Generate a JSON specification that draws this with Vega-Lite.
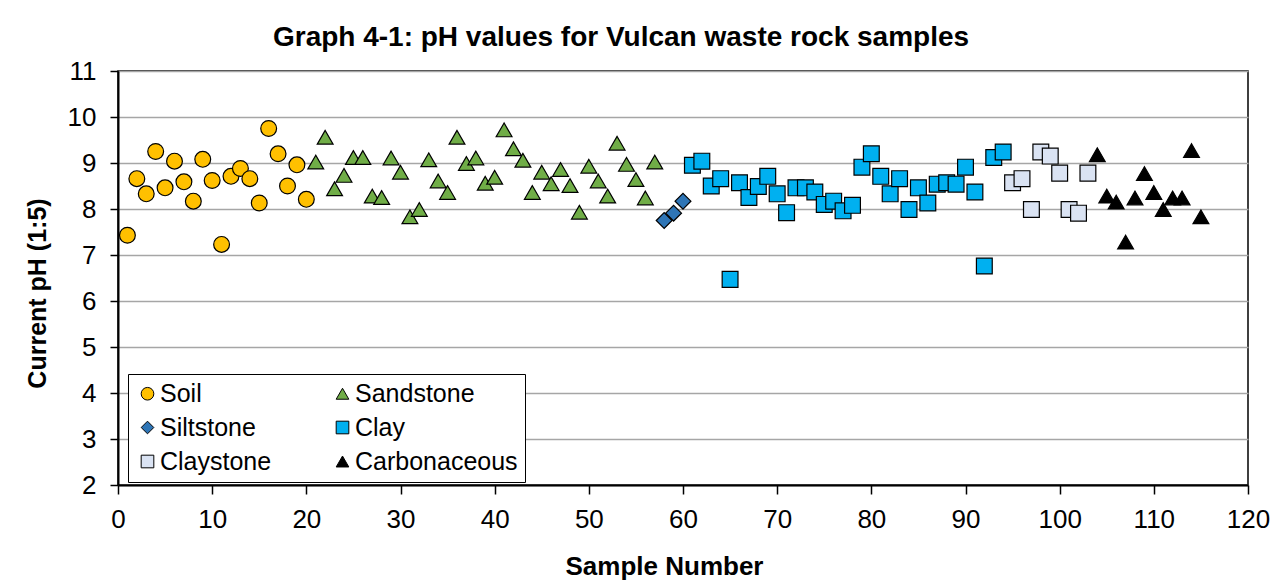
{
  "$schema": "https://vega.github.io/schema/vega-lite/v6.json",
  "width": 1130,
  "height": 414,
  "autosize": {"type": "none"},
  "padding": {"left": 118, "top": 71, "right": 32, "bottom": 97},
  "background": "white",
  "config": {
    "font": "Liberation Sans",
    "view": {"stroke": "black", "strokeWidth": 1.5}
  },
  "title": {
    "text": "Graph 4-1: pH values for Vulcan  waste rock samples",
    "font": "Liberation Sans",
    "fontSize": 28,
    "fontWeight": "bold",
    "color": "black",
    "anchor": "middle",
    "dx": -62,
    "offset": 6
  },
  "data": {
    "values": [
      {"n": 1, "pH": 7.43, "type": "Soil"},
      {"n": 2, "pH": 8.66, "type": "Soil"},
      {"n": 3, "pH": 8.33, "type": "Soil"},
      {"n": 4, "pH": 9.25, "type": "Soil"},
      {"n": 5, "pH": 8.46, "type": "Soil"},
      {"n": 6, "pH": 9.04, "type": "Soil"},
      {"n": 7, "pH": 8.59, "type": "Soil"},
      {"n": 8, "pH": 8.17, "type": "Soil"},
      {"n": 9, "pH": 9.08, "type": "Soil"},
      {"n": 10, "pH": 8.62, "type": "Soil"},
      {"n": 11, "pH": 7.23, "type": "Soil"},
      {"n": 12, "pH": 8.71, "type": "Soil"},
      {"n": 13, "pH": 8.88, "type": "Soil"},
      {"n": 14, "pH": 8.66, "type": "Soil"},
      {"n": 15, "pH": 8.13, "type": "Soil"},
      {"n": 16, "pH": 9.75, "type": "Soil"},
      {"n": 17, "pH": 9.2, "type": "Soil"},
      {"n": 18, "pH": 8.5, "type": "Soil"},
      {"n": 19, "pH": 8.96, "type": "Soil"},
      {"n": 20, "pH": 8.21, "type": "Soil"},
      {"n": 21, "pH": 9.02, "type": "Sandstone"},
      {"n": 22, "pH": 9.56, "type": "Sandstone"},
      {"n": 23, "pH": 8.44, "type": "Sandstone"},
      {"n": 24, "pH": 8.73, "type": "Sandstone"},
      {"n": 25, "pH": 9.12, "type": "Sandstone"},
      {"n": 26, "pH": 9.12, "type": "Sandstone"},
      {"n": 27, "pH": 8.28, "type": "Sandstone"},
      {"n": 28, "pH": 8.25, "type": "Sandstone"},
      {"n": 29, "pH": 9.11, "type": "Sandstone"},
      {"n": 30, "pH": 8.8, "type": "Sandstone"},
      {"n": 31, "pH": 7.83, "type": "Sandstone"},
      {"n": 32, "pH": 7.99, "type": "Sandstone"},
      {"n": 33, "pH": 9.07, "type": "Sandstone"},
      {"n": 34, "pH": 8.61, "type": "Sandstone"},
      {"n": 35, "pH": 8.36, "type": "Sandstone"},
      {"n": 36, "pH": 9.56, "type": "Sandstone"},
      {"n": 37, "pH": 8.99, "type": "Sandstone"},
      {"n": 38, "pH": 9.11, "type": "Sandstone"},
      {"n": 39, "pH": 8.56, "type": "Sandstone"},
      {"n": 40, "pH": 8.69, "type": "Sandstone"},
      {"n": 41, "pH": 9.72, "type": "Sandstone"},
      {"n": 42, "pH": 9.31, "type": "Sandstone"},
      {"n": 43, "pH": 9.06, "type": "Sandstone"},
      {"n": 44, "pH": 8.36, "type": "Sandstone"},
      {"n": 45, "pH": 8.8, "type": "Sandstone"},
      {"n": 46, "pH": 8.55, "type": "Sandstone"},
      {"n": 47, "pH": 8.86, "type": "Sandstone"},
      {"n": 48, "pH": 8.51, "type": "Sandstone"},
      {"n": 49, "pH": 7.93, "type": "Sandstone"},
      {"n": 50, "pH": 8.93, "type": "Sandstone"},
      {"n": 51, "pH": 8.61, "type": "Sandstone"},
      {"n": 52, "pH": 8.28, "type": "Sandstone"},
      {"n": 53, "pH": 9.43, "type": "Sandstone"},
      {"n": 54, "pH": 8.97, "type": "Sandstone"},
      {"n": 55, "pH": 8.64, "type": "Sandstone"},
      {"n": 56, "pH": 8.24, "type": "Sandstone"},
      {"n": 57, "pH": 9.02, "type": "Sandstone"},
      {"n": 58, "pH": 7.75, "type": "Siltstone"},
      {"n": 59, "pH": 7.91, "type": "Siltstone"},
      {"n": 60, "pH": 8.17, "type": "Siltstone"},
      {"n": 61, "pH": 8.95, "type": "Clay"},
      {"n": 62, "pH": 9.04, "type": "Clay"},
      {"n": 63, "pH": 8.5, "type": "Clay"},
      {"n": 64, "pH": 8.66, "type": "Clay"},
      {"n": 65, "pH": 6.47, "type": "Clay"},
      {"n": 66, "pH": 8.57, "type": "Clay"},
      {"n": 67, "pH": 8.25, "type": "Clay"},
      {"n": 68, "pH": 8.49, "type": "Clay"},
      {"n": 69, "pH": 8.71, "type": "Clay"},
      {"n": 70, "pH": 8.33, "type": "Clay"},
      {"n": 71, "pH": 7.92, "type": "Clay"},
      {"n": 72, "pH": 8.46, "type": "Clay"},
      {"n": 73, "pH": 8.46, "type": "Clay"},
      {"n": 74, "pH": 8.37, "type": "Clay"},
      {"n": 75, "pH": 8.1, "type": "Clay"},
      {"n": 76, "pH": 8.17, "type": "Clay"},
      {"n": 77, "pH": 7.96, "type": "Clay"},
      {"n": 78, "pH": 8.08, "type": "Clay"},
      {"n": 79, "pH": 8.91, "type": "Clay"},
      {"n": 80, "pH": 9.2, "type": "Clay"},
      {"n": 81, "pH": 8.71, "type": "Clay"},
      {"n": 82, "pH": 8.33, "type": "Clay"},
      {"n": 83, "pH": 8.66, "type": "Clay"},
      {"n": 84, "pH": 7.99, "type": "Clay"},
      {"n": 85, "pH": 8.46, "type": "Clay"},
      {"n": 86, "pH": 8.13, "type": "Clay"},
      {"n": 87, "pH": 8.54, "type": "Clay"},
      {"n": 88, "pH": 8.57, "type": "Clay"},
      {"n": 89, "pH": 8.54, "type": "Clay"},
      {"n": 90, "pH": 8.91, "type": "Clay"},
      {"n": 91, "pH": 8.37, "type": "Clay"},
      {"n": 92, "pH": 6.76, "type": "Clay"},
      {"n": 93, "pH": 9.12, "type": "Clay"},
      {"n": 94, "pH": 9.24, "type": "Clay"},
      {"n": 95, "pH": 8.57, "type": "Claystone"},
      {"n": 96, "pH": 8.66, "type": "Claystone"},
      {"n": 97, "pH": 7.99, "type": "Claystone"},
      {"n": 98, "pH": 9.24, "type": "Claystone"},
      {"n": 99, "pH": 9.15, "type": "Claystone"},
      {"n": 100, "pH": 8.78, "type": "Claystone"},
      {"n": 101, "pH": 7.99, "type": "Claystone"},
      {"n": 102, "pH": 7.91, "type": "Claystone"},
      {"n": 103, "pH": 8.78, "type": "Claystone"},
      {"n": 104, "pH": 9.18, "type": "Carbonaceous"},
      {"n": 105, "pH": 8.28, "type": "Carbonaceous"},
      {"n": 106, "pH": 8.15, "type": "Carbonaceous"},
      {"n": 107, "pH": 7.28, "type": "Carbonaceous"},
      {"n": 108, "pH": 8.24, "type": "Carbonaceous"},
      {"n": 109, "pH": 8.77, "type": "Carbonaceous"},
      {"n": 110, "pH": 8.36, "type": "Carbonaceous"},
      {"n": 111, "pH": 7.99, "type": "Carbonaceous"},
      {"n": 112, "pH": 8.24, "type": "Carbonaceous"},
      {"n": 113, "pH": 8.24, "type": "Carbonaceous"},
      {"n": 114, "pH": 9.27, "type": "Carbonaceous"},
      {"n": 115, "pH": 7.83, "type": "Carbonaceous"}
    ]
  },
  "mark": {"type": "point", "filled": true, "size": 250, "stroke": "black", "strokeWidth": 1.2, "opacity": 1},
  "encoding": {
    "x": {
      "field": "n",
      "type": "quantitative",
      "scale": {"domain": [0, 120], "nice": false, "zero": false},
      "axis": {
        "title": "Sample Number",
        "values": [0, 10, 20, 30, 40, 50, 60, 70, 80, 90, 100, 110, 120],
        "grid": false,
        "domainColor": "black",
        "domainWidth": 2,
        "tickColor": "black",
        "tickWidth": 1.5,
        "tickSize": 9,
        "labelFont": "Liberation Sans",
        "labelFontSize": 26,
        "labelColor": "black",
        "labelPadding": 12,
        "labelFlush": false,
        "titleFont": "Liberation Sans",
        "titleFontSize": 26,
        "titleFontWeight": "bold",
        "titleColor": "black",
        "titlePadding": 21,
        "titleX": 546
      }
    },
    "y": {
      "field": "pH",
      "type": "quantitative",
      "scale": {"domain": [2, 11], "nice": false, "zero": false},
      "axis": {
        "title": "Current pH (1:5)",
        "values": [2, 3, 4, 5, 6, 7, 8, 9, 10, 11],
        "grid": true,
        "gridColor": "#A6A6A6",
        "gridWidth": 1.5,
        "domainColor": "black",
        "domainWidth": 2,
        "tickColor": "black",
        "tickWidth": 1.5,
        "tickSize": 8,
        "labelFont": "Liberation Sans",
        "labelFontSize": 26,
        "labelColor": "black",
        "labelPadding": 14,
        "labelFlush": false,
        "titleFont": "Liberation Sans",
        "titleFontSize": 25,
        "titleFontWeight": "bold",
        "titleColor": "black",
        "titlePadding": 17,
        "titleY": 222
      }
    },
    "color": {
      "field": "type",
      "type": "nominal",
      "scale": {
        "domain": ["Soil", "Siltstone", "Claystone", "Sandstone", "Clay", "Carbonaceous"],
        "range": ["#FFC000", "#2E75B6", "#DAE3F3", "#70AD47", "#00B0F0", "#000000"]
      },
      "legend": {
        "title": null,
        "orient": "none",
        "legendX": 10,
        "legendY": 303,
        "columns": 2,
        "columnPadding": 58,
        "rowPadding": 8,
        "padding": 7,
        "strokeColor": "black",
        "fillColor": "white",
        "labelFont": "Liberation Sans",
        "labelFontSize": 25,
        "labelColor": "black",
        "labelOffset": 0,
        "labelLimit": 400,
        "symbolSize": 160,
        "symbolStrokeColor": "black",
        "symbolStrokeWidth": 1
      }
    },
    "shape": {
      "field": "type",
      "type": "nominal",
      "scale": {
        "domain": ["Soil", "Siltstone", "Claystone", "Sandstone", "Clay", "Carbonaceous"],
        "range": ["circle", "diamond", "square", "triangle-up", "square", "triangle-up"]
      },
      "legend": null
    }
  }
}
